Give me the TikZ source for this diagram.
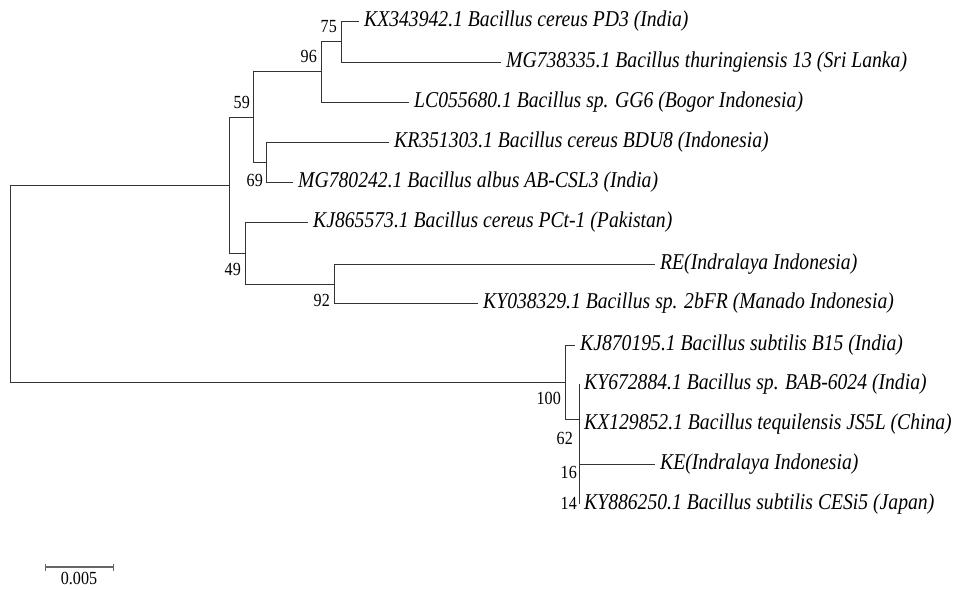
\documentclass[tikz,border=0pt]{standalone}
\usepackage{fontspec}
\setmainfont{Liberation Serif}
\newfontfamily\treefont[FakeStretch=0.87]{Liberation Serif}
\usetikzlibrary{positioning,calc}

\tikzset{
  branch/.style={draw=black!80, line width=0.9pt},
  taxon/.style={anchor=west, inner sep=0pt, xshift=5pt, font=\fontsize{22.6}{26}\treefont\itshape},
  boot/.style={inner sep=0pt, font=\fontsize{18.5}{22}\treefont},
  bootup/.style={boot, anchor=south east, xshift=-4pt, yshift=8pt},
  bootdown/.style={boot, anchor=north east, xshift=-4pt, yshift=-10pt},
}

\begin{document}
\begin{tikzpicture}[x=1pt, y=-1pt]
\useasboundingbox (0,0) rectangle (958,589);
% internal nodes
\coordinate (root) at (10,283.5);
\coordinate (nA) at (229,185);
\coordinate (n59) at (253,117);
\coordinate (n96) at (321,71);
\coordinate (n75) at (341,41);
\coordinate (n69) at (266,162);
\coordinate (n49) at (245,253);
\coordinate (n92) at (334,284);
\coordinate (n100) at (565,382);
\coordinate (n62) at (579,419);
\coordinate (n16) at (579,454);
\coordinate (n14) at (579,484);
% leaf tips
\coordinate (tKX34) at (359,21);
\coordinate (tMG73) at (501,62);
\coordinate (tLC) at (409,102);
\coordinate (tKR) at (389,142);
\coordinate (tMG78) at (293,182);
\coordinate (tKJ86) at (308,222);
\coordinate (tRE) at (655,264);
\coordinate (tKY03) at (478,303);
\coordinate (tKJ87) at (575,345);
\coordinate (tKY67) at (579,384);
\coordinate (tKX12) at (579,424);
\coordinate (tKE) at (655,464);
\coordinate (tKY88) at (579,504);

% branches
\draw[branch] (root) |- (nA);
\draw[branch] (root) |- (n100);
\draw[branch] (nA) |- (n59);
\draw[branch] (nA) |- (n49);
\draw[branch] (n59) |- (n96);
\draw[branch] (n59) |- (n69);
\draw[branch] (n96) |- (n75);
\draw[branch] (n96) |- (tLC);
\draw[branch] (n75) |- (tKX34);
\draw[branch] (n75) |- (tMG73);
\draw[branch] (n69) |- (tKR);
\draw[branch] (n69) |- (tMG78);
\draw[branch] (n49) |- (tKJ86);
\draw[branch] (n49) |- (n92);
\draw[branch] (n92) |- (tRE);
\draw[branch] (n92) |- (tKY03);
\draw[branch] (n100) |- (tKJ87);
\draw[branch] (n100) |- (n62);
\draw[branch] (n62) |- (tKY67);
\draw[branch] (n62) |- (n16);
\draw[branch] (n16) |- (tKX12);
\draw[branch] (n16) |- (n14);
\draw[branch] (n14) |- (tKE);
\draw[branch] (n14) |- (tKY88);

% taxa
\node[taxon] (KX34) at (tKX34) {KX343942.1 Bacillus cereus PD3 (India)};
\node[taxon] (MG73) at (tMG73) {MG738335.1 Bacillus thuringiensis 13 (Sri Lanka)};
\node[taxon] (LC) at (tLC) {LC055680.1 Bacillus sp. GG6 (Bogor Indonesia)};
\node[taxon] (KR) at (tKR) {KR351303.1 Bacillus cereus BDU8 (Indonesia)};
\node[taxon] (MG78) at (tMG78) {MG780242.1 Bacillus albus AB-CSL3 (India)};
\node[taxon] (KJ86) at (tKJ86) {KJ865573.1 Bacillus cereus PCt-1 (Pakistan)};
\node[taxon] (RE) at (tRE) {RE(Indralaya Indonesia)};
\node[taxon] (KY03) at (tKY03) {KY038329.1 Bacillus sp. 2bFR (Manado Indonesia)};
\node[taxon] (KJ87) at (tKJ87) {KJ870195.1 Bacillus subtilis B15 (India)};
\node[taxon] (KY67) at (tKY67) {KY672884.1 Bacillus sp. BAB-6024 (India)};
\node[taxon] (KX12) at (tKX12) {KX129852.1 Bacillus tequilensis JS5L (China)};
\node[taxon] (KE) at (tKE) {KE(Indralaya Indonesia)};
\node[taxon] (KY88) at (tKY88) {KY886250.1 Bacillus subtilis CESi5 (Japan)};

% bootstrap values
\node[bootup] (b75) at (n75) {75};
\node[bootup] (b96) at (n96) {96};
\node[bootup, xshift=1pt] (b59) at (n59) {59};
\node[bootdown, xshift=1pt, yshift=-2pt] (b69) at (n69) {69};
\node[bootdown] (b49) at (n49) {49};
\node[bootdown] (b92) at (n92) {92};
\node[bootdown] (b100) at (n100) {100};
\node[bootdown, xshift=-2pt, yshift=-3pt] (b62) at (n62) {62};
\node[bootdown, xshift=2pt, yshift=-2pt] (b16) at (n16) {16};
\node[bootdown, xshift=2pt, yshift=-3pt] (b14) at (n14) {14};

% scale bar
\coordinate (sb1) at (45,567);
\coordinate (sb2) at (113,567);
\draw[draw=black!60, line width=1.2pt] (sb1) -- (sb2);
\draw[draw=black!60, line width=1pt] ([yshift=3.5pt]sb1) -- ([yshift=-3.5pt]sb1);
\draw[draw=black!60, line width=1pt] ([yshift=3.5pt]sb2) -- ([yshift=-3.5pt]sb2);
\node[boot, anchor=north, yshift=-5pt] (sblabel) at ($(sb1)!0.5!(sb2)$) {0.005};
\end{tikzpicture}
\end{document}
